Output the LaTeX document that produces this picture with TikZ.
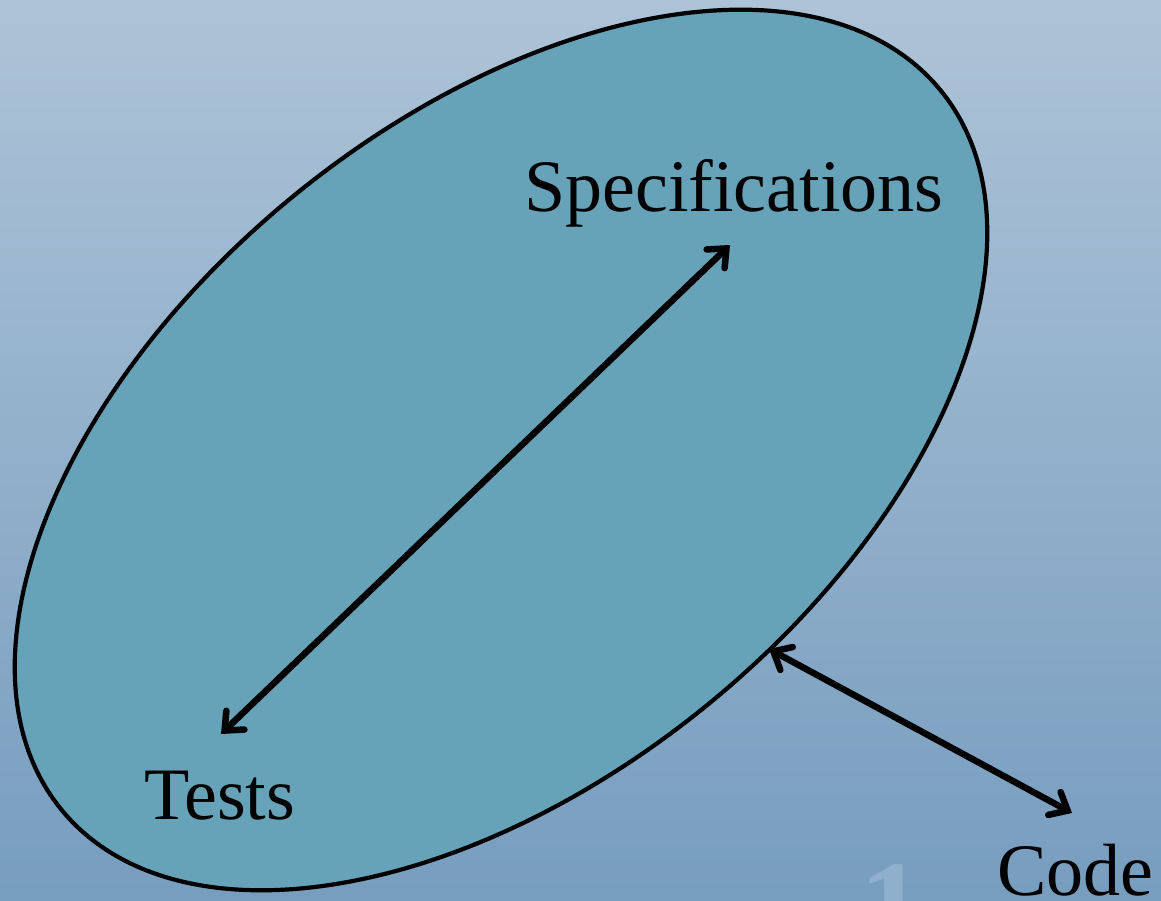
\documentclass[tikz,border=0pt]{standalone}
\usepackage{fontspec}
\setmainfont{Liberation Serif}
\usetikzlibrary{arrows.meta}
\definecolor{bgtop}{HTML}{ADC3D7}
\definecolor{bgbot}{HTML}{779DBF}
\definecolor{blob}{HTML}{67A3B8}
\definecolor{pagenum}{HTML}{8FB0CC}
\tikzset{
  label/.style={font=\fontsize{74}{82}\selectfont, inner sep=0pt, anchor=base west},
  link/.style={line width=6.5pt, line cap=round,
    {Straight Barb[length=15pt,width=26pt,line cap=round]}-{Straight Barb[length=15pt,width=26pt,line cap=round]}},
}
\begin{document}
\begin{tikzpicture}[x=1pt,y=1pt]
  \useasboundingbox (0,0) rectangle (1161,901);
  \clip (0,0) rectangle (1161,901);
  % slide background
  \shade[top color=bgtop, bottom color=bgbot] (0,0) rectangle (1161,901);
  % faint slide number
  \node[font=\bfseries\fontsize{130}{140}\selectfont, text=pagenum, anchor=north, inner sep=0pt] (num) at (892,37) {1};
  % tilted ellipse grouping specifications and tests
  \draw[line width=4.2pt, fill=blob, rotate around={39.3:(501,451)}] (501,451) ellipse [x radius=568pt, y radius=328pt];
  \node[label] (spec) at (524,689) {Specifications};
  \node[label] (tests) at (144,81) {Tests};
  \node[label] (code) at (997,5) {Code};
  \coordinate (sp) at (730,656);
  \coordinate (te) at (221,167);
  \coordinate (rim) at (769,252);
  \coordinate (co) at (1072,88);
  \draw[link] (te) -- (sp);
  \draw[link] (rim) -- (co);
\end{tikzpicture}
\end{document}
